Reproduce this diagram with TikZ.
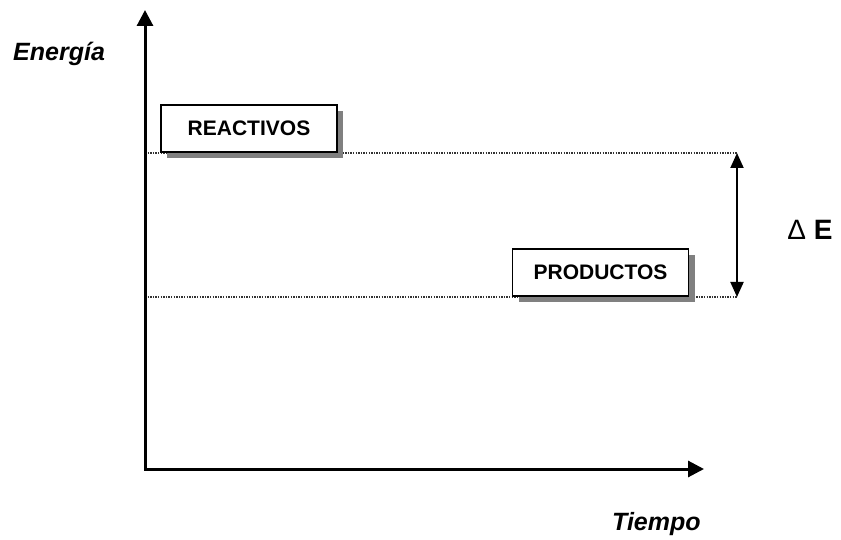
\documentclass[tikz,border=0pt]{standalone}
\usepackage{fontspec}
\setmainfont{Liberation Sans}
\usetikzlibrary{arrows.meta,%
	shadows}

\begin{document}
\begin{tikzpicture}[x=1pt,y=-1pt,
	caja/.style={draw,line width=1.4pt,fill=white,minimum width=176pt,minimum height=47pt,inner sep=0pt,font=\fontsize{21}{21}\selectfont\bfseries,drop shadow={shadow xshift=6pt,shadow yshift=-6pt,fill=gray,opacity=1}},
	etiqueta/.style={anchor=base west,inner sep=0pt,font=\fontsize{25}{25}\selectfont\bfseries\itshape},
	eje/.style={line width=3pt,{Triangle[length=16pt,width=16pt]}-{Triangle[length=16pt,width=16pt]}},
	punteado/.style={line width=1.3pt,dash pattern=on 1.3pt off 1.3pt,black!80},
	flecha/.style={line width=2pt,{Triangle[length=15pt,width=13pt]}-{Triangle[length=15pt,width=13pt]}}]

		\useasboundingbox (0,0) rectangle (841,540);

		\coordinate (origen) at (145,469);
		\coordinate (ytop) at (145,10);
		\coordinate (xfin) at (704,469);
		\coordinate (er) at (737,153);
		\coordinate (ep) at (737,297);

		\draw[punteado] (origen |- er) -- (er);
		\draw[punteado] (origen |- ep) -- (ep);

		\node[caja] (reactivos) at (249,128.5) {REACTIVOS};
		\node[caja] (productos) at (600.5,272.5) {PRODUCTOS};

		\draw[eje] (ytop) -- (origen) -- (xfin);
		\draw[flecha] (er) -- (ep);

		\node[etiqueta] (energia) at (13,61) {Energía};
		\node[etiqueta] (tiempo) at (612,530) {Tiempo};
		\node[inner sep=0pt,font=\fontsize{28}{28}\selectfont] (deltae) at (810,230) {Δ \textbf{E}};
		\end{tikzpicture}
\end{document}
